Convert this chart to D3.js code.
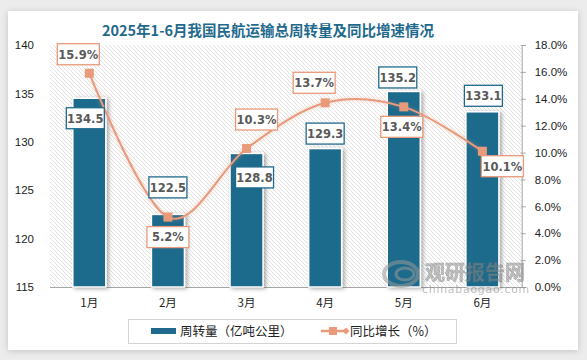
<!DOCTYPE html>
<html><head><meta charset="utf-8">
<script src="https://cdn.jsdelivr.net/npm/d3@7"></script>
<style>
html,body{margin:0;padding:0;background:#ececec;}
svg{display:block;}
</style></head>
<body>
<svg id="chart" width="587" height="360"></svg>
<script>
const months = ["1月","2月","3月","4月","5月","6月"];
const turnover = [134.5,122.5,128.8,129.3,135.2,133.1];
const growth = [15.9,5.2,10.3,13.7,13.4,10.1];
const leftTicks = [115,120,125,130,135,140];
const rightTicks = [0,2,4,6,8,10,12,14,16,18];
const titleText = "2025年1-6月我国民航运输总周转量及同比增速情况";
const legendLabels = ["周转量（亿吨公里）","同比增长（%）"];

// label offsets (style config)
const barLabelOff = [[-4,20],[0,-27],[8,24],[0,-15],[-6,-14],[1,-16]];
const pctLabelOff = [[-11,-19],[0,20],[10,-29],[-11,-20],[-2,20],[20,15]];

const W=587,H=360;
const svg=d3.select("#chart");
const defs=svg.append("defs");
const sh=defs.append("filter").attr("id","cardShadow").attr("x","-5%").attr("y","-5%").attr("width","110%").attr("height","110%");
sh.append("feDropShadow").attr("dx",0).attr("dy",1).attr("stdDeviation",3).attr("flood-color","#000").attr("flood-opacity",0.18);
const bs=defs.append("filter").attr("id","barShadow").attr("x","-30%").attr("y","-10%").attr("width","160%").attr("height","130%");
bs.append("feDropShadow").attr("dx",2).attr("dy",1).attr("stdDeviation",2).attr("flood-color","#000").attr("flood-opacity",0.35);
const ls=defs.append("filter").attr("id","lineGlow").attr("x","-10%").attr("y","-10%").attr("width","120%").attr("height","120%");
ls.append("feDropShadow").attr("dx",0).attr("dy",0).attr("stdDeviation",2).attr("flood-color","#e99a7b").attr("flood-opacity",0.5);
const pat=defs.append("pattern").attr("id","hatch").attr("patternUnits","userSpaceOnUse").attr("width",4).attr("height",4);
pat.append("rect").attr("width",4).attr("height",4).attr("fill","#ffffff");
pat.append("path").attr("d","M-1,-1 L5,5 M-1,3 L1,5 M3,-1 L5,1").attr("stroke","#d9d9d9").attr("stroke-width",0.75);

// card
svg.append("rect").attr("x",8).attr("y",11).attr("width",570).attr("height",339).attr("fill","#fff").attr("filter","url(#cardShadow)");

const m={l:50,r:521.7,t:45,b:287};
const x=d3.scaleBand().domain(months).range([m.l,m.r]).paddingInner(0.58).paddingOuter(0.29);
const yL=d3.scaleLinear().domain([115,140]).range([m.b,m.t]);
const yR=d3.scaleLinear().domain([0,18]).range([m.b,m.t]);

// plot background
svg.append("rect").attr("x",m.l).attr("y",m.t).attr("width",m.r-m.l).attr("height",m.b-m.t).attr("fill","url(#hatch)");

// title
svg.append("text").attr("x",268).attr("y",36).attr("text-anchor","middle")
  .attr("font-family","'Noto Sans CJK SC','Noto Sans',sans-serif").attr("font-weight","bold")
  .attr("font-size",14.5).attr("fill","#1f6a8c").text(titleText);

// left axis
const axL=svg.append("g").attr("transform",`translate(${m.l},0)`)
  .call(d3.axisLeft(yL).tickValues(leftTicks).tickSize(0).tickPadding(16));
axL.select(".domain").remove();
axL.selectAll("text").attr("font-family","'Liberation Sans',Arial,sans-serif").attr("font-size",11.5).attr("fill","#222");

// right axis
const axR=svg.append("g").attr("transform",`translate(${m.r},0)`)
  .call(d3.axisRight(yR).tickValues(rightTicks).tickSize(4).tickPadding(9).tickFormat(d=>d.toFixed(1)+"%"));
axR.select(".domain").attr("stroke","#a6a6a6");
axR.selectAll(".tick line").attr("stroke","#a6a6a6").attr("x1",-1);
axR.selectAll("text").attr("font-family","'Liberation Sans',Arial,sans-serif").attr("font-size",11.5).attr("fill","#222");

// bottom axis
const axB=svg.append("g").attr("transform",`translate(0,${m.b})`)
  .call(d3.axisBottom(x).tickSize(0).tickPadding(12));
axB.select(".domain").attr("stroke","#a6a6a6").attr("d",`M${m.l},0.5H${m.r}`);
axB.selectAll("text").attr("font-family","'Noto Sans CJK SC',sans-serif").attr("font-size",11.5).attr("fill","#222");

// bars
svg.append("g").selectAll("rect").data(turnover).join("rect")
  .attr("x",(d,i)=>x(months[i])).attr("y",d=>yL(d))
  .attr("width",x.bandwidth()).attr("height",d=>m.b-yL(d))
  .attr("fill","#1f6a8c").attr("stroke","#fff").attr("stroke-width",1.5)
  .attr("filter","url(#barShadow)");

// watermark (over bars, semi-transparent)
const wm=svg.append("g").attr("opacity",0.55);
wm.append("ellipse").attr("cx",401).attr("cy",274).attr("rx",17).attr("ry",12).attr("fill","none").attr("stroke","#9a9a9a").attr("stroke-width",4);
wm.append("ellipse").attr("cx",405).attr("cy",274).attr("rx",9).attr("ry",6).attr("fill","none").attr("stroke","#9a9a9a").attr("stroke-width",3);
wm.append("text").attr("x",425).attr("y",280).attr("font-family","'Noto Sans CJK SC',sans-serif").attr("font-weight","bold")
  .attr("font-size",20).attr("fill","#8a8a8a").attr("stroke","#6e6e6e").attr("stroke-width",0.6).text("观研报告网");
wm.append("text").attr("x",422).attr("y",293).attr("font-family","'DejaVu Sans',sans-serif")
  .attr("font-size",11).attr("letter-spacing",0.7).attr("fill","#8a8a8a").text("chinabaogao.com");

// line
const cx=(i)=>x(months[i])+x.bandwidth()/2;
const line=d3.line().x((d,i)=>cx(i)).y(d=>yR(d)).curve(d3.curveCardinal.tension(0));
svg.append("path").datum(growth).attr("d",line).attr("fill","none").attr("stroke","#e99a7b").attr("stroke-width",2)
  .attr("filter","url(#lineGlow)");
svg.append("g").selectAll("rect").data(growth).join("rect")
  .attr("x",(d,i)=>cx(i)-4.5).attr("y",d=>yR(d)-4.5).attr("width",9).attr("height",9).attr("fill","#e99a7b");

// labels
function label(g,cxp,cyp,txt,border,w){
  const h=21;
  g.append("rect").attr("x",cxp-w/2).attr("y",cyp-h/2).attr("width",w).attr("height",h)
    .attr("fill","#fff").attr("stroke",border).attr("stroke-width",1.3);
  g.append("text").attr("x",cxp).attr("y",cyp+4.3).attr("text-anchor","middle")
    .attr("font-family","'DejaVu Sans',Verdana,sans-serif").attr("font-weight","bold").attr("font-size",11.5)
    .attr("fill","#595959").text(txt);
}
const lg=svg.append("g");
turnover.forEach((d,i)=>{
  label(lg,cx(i)+barLabelOff[i][0],yL(d)+barLabelOff[i][1],d.toFixed(1),"#1f6a8c",38);
});
growth.forEach((d,i)=>{
  label(lg,cx(i)+pctLabelOff[i][0],yR(d)+pctLabelOff[i][1],d.toFixed(1)+"%","#e99a7b",42);
});

// legend
const leg=svg.append("g");
leg.append("rect").attr("x",128.5).attr("y",319.5).attr("width",328).attr("height",24).attr("fill","#fff").attr("stroke","#d4d4d4");
leg.append("rect").attr("x",151).attr("y",328).attr("width",25).attr("height",6).attr("fill","#1f6a8c");
leg.append("text").attr("x",180).attr("y",336).attr("font-family","'Noto Sans CJK SC',sans-serif").attr("font-size",12.5).attr("fill","#222").text(legendLabels[0]);
leg.append("line").attr("x1",321).attr("x2",348).attr("y1",331).attr("y2",331).attr("stroke","#e99a7b").attr("stroke-width",2.5);
leg.append("rect").attr("x",329).attr("y",327).attr("width",8).attr("height",8).attr("fill","#e99a7b");
leg.append("path").attr("d","M346,327.5L349.5,331L346,334.5L342.5,331Z").attr("fill","#e99a7b");
leg.append("text").attr("x",350).attr("y",336).attr("font-family","'Noto Sans CJK SC',sans-serif").attr("font-size",12.5).attr("fill","#222").text(legendLabels[1]);
</script>
</body></html>
